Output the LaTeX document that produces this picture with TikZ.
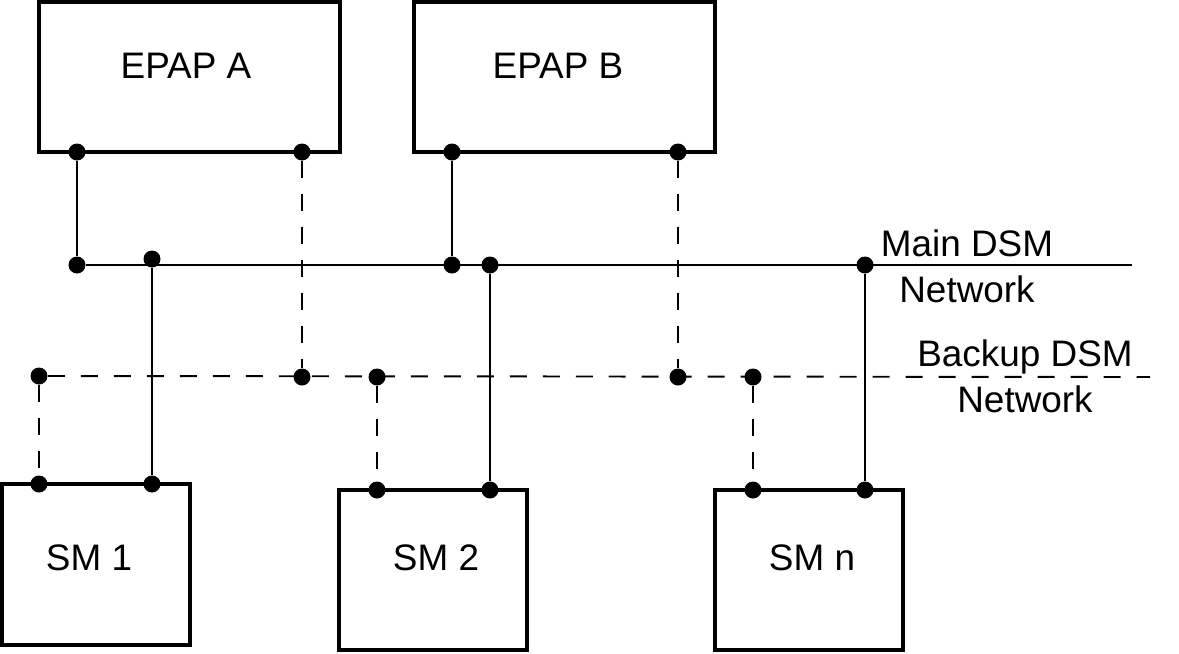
\documentclass[tikz,border=0pt]{standalone}
\usepackage{fontspec}
\setmainfont{Liberation Sans}
\usetikzlibrary{positioning}

\begin{document}
\begin{tikzpicture}[x=0.02cm, y=-0.02cm,
        box/.style={draw, line width=2.3pt, inner sep=0pt},
        dot/.style={circle, fill, inner sep=0pt, minimum size=0.34cm},
        wire/.style={line width=1.1pt},
        bwire/.style={line width=1.1pt, dash pattern=on 0.34cm off 0.32cm},
        lbl/.style={font=\fontsize{21}{26}\selectfont, align=center}]

        \useasboundingbox (0,0) rectangle (1179,653);

        % processors on top
        \node[box, minimum width=6.02cm, minimum height=3cm] (epapA) at (189.5,77) {};
        \node[box, minimum width=6.02cm, minimum height=3cm] (epapB) at (564.5,77) {};
        \node[lbl] (epapAname) at (186,66) {EPAP A};
        \node[lbl] (epapBname) at (558,66) {EPAP B};

        % service modules below
        \node[box, minimum width=3.76cm, minimum height=3.22cm] (sm1) at (96,564.5) {};
        \node[box, minimum width=3.76cm, minimum height=3.2cm] (sm2) at (433,570) {};
        \node[box, minimum width=3.76cm, minimum height=3.2cm] (smn) at (809,570) {};
        \node[lbl] (sm1name) at (89,558) {SM 1};
        \node[lbl] (sm2name) at (436,558) {SM 2};
        \node[lbl] (smnname) at (812,558) {SM n};

        % taps on the boxes
        \node[dot] (ea1) at (77,152) {};
        \node[dot] (ea2) at (302,152) {};
        \node[dot] (eb1) at (452,152) {};
        \node[dot] (eb2) at (678,152) {};
        \node[dot] (s1a) at (39,484) {};
        \node[dot] (s1b) at (152,484) {};
        \node[dot] (s2a) at (377,490) {};
        \node[dot] (s2b) at (490,490) {};
        \node[dot] (s3a) at (753,490) {};
        \node[dot] (s3b) at (865,490) {};

        % taps on the networks
        \node[dot] (m1) at (77,265) {};
        \node[dot] (m2) at (152,259) {};
        \node[dot] (m3) at (452,265) {};
        \node[dot] (m4) at (490,265) {};
        \node[dot] (m5) at (865,265) {};
        \node[dot] (k1) at (39,376) {};
        \node[dot] (k2) at (302,377) {};
        \node[dot] (k3) at (377,377) {};
        \node[dot] (k4) at (678,377) {};
        \node[dot] (k5) at (753,377) {};
        \coordinate (mEnd) at (1132,265);
        \coordinate (kEnd) at (1150,377);

        % the two networks
        \draw[wire] (m1) -- (mEnd);
        \draw[bwire] (k1) -- (kEnd);
        \node[lbl] (mainname) at (967,266) {Main DSM\\Network};
        \node[lbl] (backupname) at (1025,376) {Backup DSM\\Network};

        % main links
        \draw[wire] (ea1) -- (m1);
        \draw[wire] (eb1) -- (m3);
        \draw[wire] (m2) -- (s1b);
        \draw[wire] (m4) -- (s2b);
        \draw[wire] (m5) -- (s3b);

        % backup links
        \draw[bwire] (ea2) -- (k2);
        \draw[bwire] (eb2) -- (k4);
        \draw[bwire] (k1) -- (s1a);
        \draw[bwire] (k3) -- (s2a);
        \draw[bwire] (k5) -- (s3a);
    \end{tikzpicture}
\end{document}
